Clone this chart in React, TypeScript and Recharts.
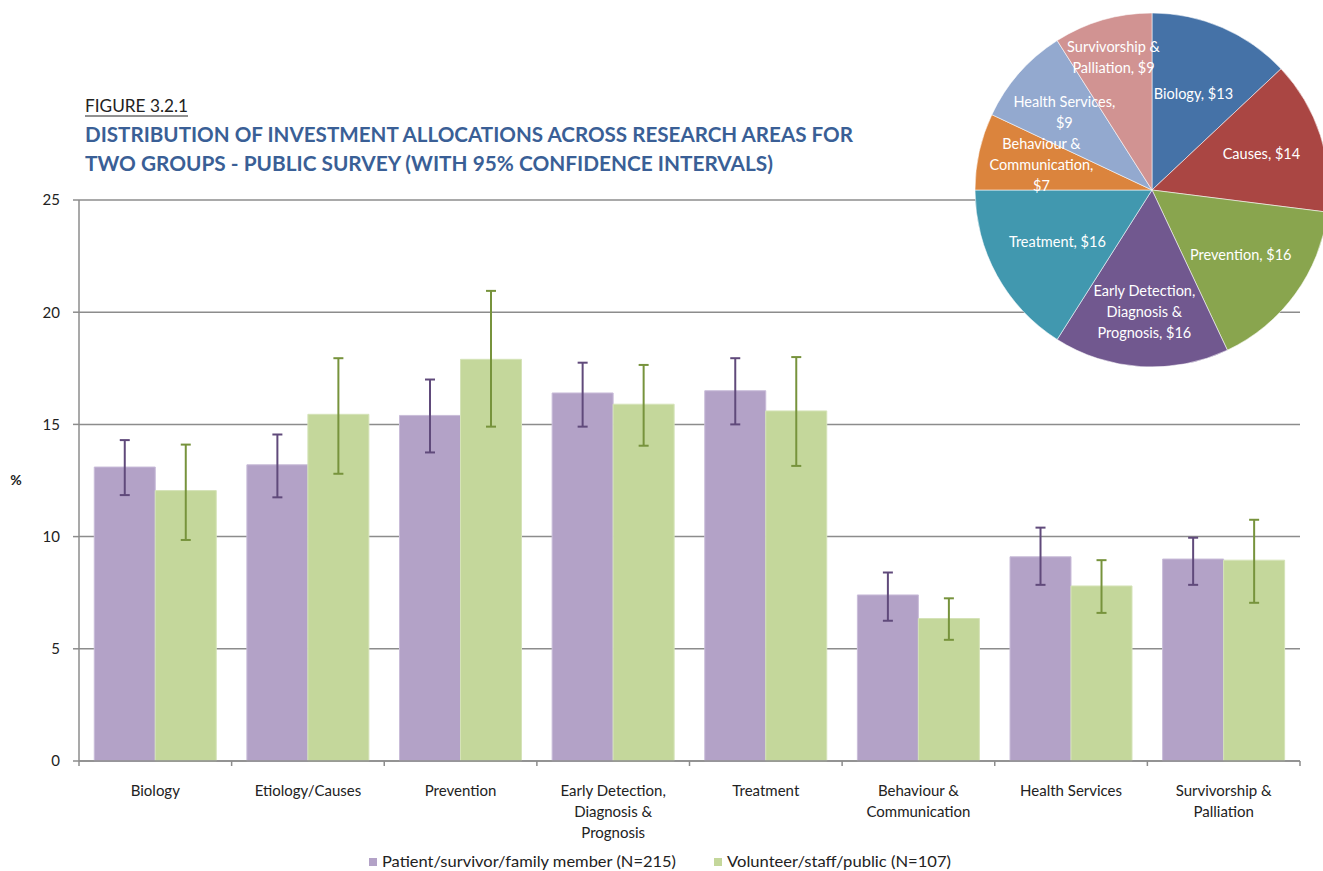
import React from 'react';
import { BarChart, Bar, XAxis, YAxis, CartesianGrid, ErrorBar, PieChart, Pie, Cell } from 'recharts';

// ---------- Data ----------
const categories = [
  'Biology',
  'Etiology/Causes',
  'Prevention',
  'Early Detection,\nDiagnosis &\nPrognosis',
  'Treatment',
  'Behaviour &\nCommunication',
  'Health Services',
  'Survivorship &\nPalliation',
];

const patient = [13.1, 13.2, 15.4, 16.4, 16.5, 7.4, 9.1, 9.0];
const patientLow = [11.85, 11.75, 13.75, 14.9, 15.0, 6.25, 7.85, 7.85];
const patientHigh = [14.3, 14.55, 17.0, 17.75, 17.95, 8.4, 10.4, 9.95];

const volunteer = [12.05, 15.45, 17.9, 15.9, 15.6, 6.35, 7.8, 8.95];
const volunteerLow = [9.85, 12.8, 14.9, 14.05, 13.15, 5.4, 6.6, 7.05];
const volunteerHigh = [14.1, 17.95, 20.95, 17.65, 18.0, 7.25, 8.95, 10.75];

const yTicks = [0, 5, 10, 15, 20, 25];

const seriesNames = ['Patient/survivor/family member (N=215)', 'Volunteer/staff/public (N=107)'];

const pieNames = ['Biology', 'Causes', 'Prevention', 'Early Detection', 'Treatment', 'Behaviour', 'Health Services', 'Survivorship'];
const pieLabelTemplates = [
  'Biology, $',
  'Causes, $',
  'Prevention, $',
  'Early Detection,\nDiagnosis &\nPrognosis, $',
  'Treatment, $',
  'Behaviour &\nCommunication,\n$',
  'Health Services,\n$',
  'Survivorship &\nPalliation, $',
];
const pieValues = [13, 14, 16, 16, 16, 7, 9, 9];

// ---------- Styles ----------
const FONT = 'Lato, "Open Sans", sans-serif';
const PIE_COLORS = ['#4572A7', '#AA4643', '#89A54E', '#71588F', '#4198AF', '#DB843D', '#93A9CF', '#D19392'];
const PIE_LABEL_R = [0.59, 0.65, 0.62, 0.69, 0.61, 0.64, 0.66, 0.78];
const GRID = '#8c8c8c';
const PLOT_LEFT = 79;
const PLOT_RIGHT = 1300;
const PLOT_BOTTOM = 761;
const BAND = (PLOT_RIGHT - PLOT_LEFT) / categories.length;

const barData = categories.map((c, i) => ({
  category: c,
  patient: patient[i],
  patientErr: [patient[i] - patientLow[i], patientHigh[i] - patient[i]],
  volunteer: volunteer[i],
  volunteerErr: [volunteer[i] - volunteerLow[i], volunteerHigh[i] - volunteer[i]],
}));

const pieData = pieNames.map((n, i) => ({ name: n, value: pieValues[i] }));

const XTick = (props: any) => {
  const { x, payload, index } = props;
  const lines = String(payload.value).split('\n');
  const isLast = index === categories.length - 1;
  return (
    <g>
      <line x1={x - BAND / 2} x2={x - BAND / 2} y1={PLOT_BOTTOM} y2={PLOT_BOTTOM + 5} stroke={GRID} strokeWidth={1.5} />
      {isLast && (
        <line x1={x + BAND / 2} x2={x + BAND / 2} y1={PLOT_BOTTOM} y2={PLOT_BOTTOM + 5} stroke={GRID} strokeWidth={1.5} />
      )}
      <text x={x} y={PLOT_BOTTOM + 35} textAnchor="middle" fontSize={15} fill="#222" fontFamily={FONT}>
        {lines.map((l, i) => (
          <tspan key={i} x={x} dy={i === 0 ? 0 : 21}>
            {l}
          </tspan>
        ))}
      </text>
    </g>
  );
};

const renderPieLabel = (props: any) => {
  const { cx, cy, midAngle, outerRadius, index } = props;
  const RAD = Math.PI / 180;
  const r = outerRadius * PIE_LABEL_R[index];
  const x = cx + r * Math.cos(-midAngle * RAD);
  const y = cy + r * Math.sin(-midAngle * RAD);
  const lines = (pieLabelTemplates[index] + pieValues[index]).split('\n');
  const startDy = -((lines.length - 1) * 21) / 2 + 5;
  return (
    <text x={x} y={y} textAnchor="middle" fill="#ffffff" fontSize={14.5} fontFamily={FONT}>
      {lines.map((l, i) => (
        <tspan key={i} x={x} dy={i === 0 ? startDy : 21}>
          {l}
        </tspan>
      ))}
    </text>
  );
};

export default function App() {
  return (
    <div style={{ position: 'absolute', left: 0, top: 0, width: 1323, height: 871, overflow: 'hidden', background: '#fff', fontFamily: FONT }}>
      <div style={{ position: 'absolute', left: 0, top: 0 }}>
        <BarChart
          width={1323}
          height={871}
          data={barData}
          margin={{ top: 200, right: 1323 - PLOT_RIGHT, bottom: 30, left: 0 }}
          barCategoryGap="10%"
          barGap={0}
        >
          <CartesianGrid vertical={false} stroke={GRID} strokeWidth={1.5} />
          <XAxis
            dataKey="category"
            interval={0}
            tick={<XTick />}
            tickLine={false}
            axisLine={{ stroke: GRID, strokeWidth: 1.5 }}
            height={80}
          />
          <YAxis
            domain={[0, 25]}
            ticks={yTicks}
            width={PLOT_LEFT}
            tickSize={6}
            tickMargin={13}
            axisLine={{ stroke: GRID, strokeWidth: 1.5 }}
            tickLine={{ stroke: GRID, strokeWidth: 1.5 }}
            tick={{ fontSize: 15, fill: '#222', fontFamily: FONT }}
          />
          <Bar dataKey="patient" fill="#B3A2C7" stroke="#C9BCD9" strokeWidth={1} isAnimationActive={false}>
            <ErrorBar dataKey="patientErr" width={5} strokeWidth={2} stroke="#604A7B" direction="y" />
          </Bar>
          <Bar dataKey="volunteer" fill="#C4D79B" stroke="#D5E3B8" strokeWidth={1} isAnimationActive={false}>
            <ErrorBar dataKey="volunteerErr" width={5} strokeWidth={2} stroke="#77933C" direction="y" />
          </Bar>
        </BarChart>
      </div>

      <div style={{ position: 'absolute', left: 972, top: 10 }}>
        <PieChart width={360} height={360} margin={{ top: 0, right: 0, bottom: 0, left: 0 }}>
          <Pie
            data={pieData}
            dataKey="value"
            nameKey="name"
            cx={180}
            cy={180}
            outerRadius={177}
            startAngle={90}
            endAngle={-270}
            stroke="rgba(255,255,255,0.55)"
            strokeWidth={1}
            label={renderPieLabel}
            labelLine={false}
            isAnimationActive={false}
          >
            {pieData.map((d, i) => (
              <Cell key={d.name} fill={PIE_COLORS[i]} />
            ))}
          </Pie>
        </PieChart>
      </div>

      <svg width={1323} height={871} style={{ position: 'absolute', left: 0, top: 0, pointerEvents: 'none' }}>
        <text x={85} y={112} fontSize={17} fill="#222" fontFamily={FONT} textLength={103} lengthAdjust="spacingAndGlyphs">
          FIGURE 3.2.1
        </text>
        <line x1={85} x2={188} y1={116} y2={116} stroke="#222" strokeWidth={1.2} />
        <text x={85} y={142} fontSize={20.5} fontWeight={700} fill="#3A5F96" fontFamily={FONT} textLength={768} lengthAdjust="spacingAndGlyphs">
          DISTRIBUTION OF INVESTMENT ALLOCATIONS ACROSS RESEARCH AREAS FOR
        </text>
        <text x={85} y={171} fontSize={20.5} fontWeight={700} fill="#3A5F96" fontFamily={FONT} textLength={688} lengthAdjust="spacingAndGlyphs">
          TWO GROUPS - PUBLIC SURVEY  (WITH 95% CONFIDENCE INTERVALS)
        </text>
        <text x={16} y={485} fontSize={14} fontWeight={700} fill="#222" fontFamily={FONT} textAnchor="middle">
          %
        </text>
        <rect x={369} y={858} width={8} height={8} fill="#B3A2C7" />
        <text x={382} y={867} fontSize={15} fill="#222" fontFamily={FONT} textLength={294} lengthAdjust="spacingAndGlyphs">
          {seriesNames[0]}
        </text>
        <rect x={714} y={858} width={8} height={8} fill="#C4D79B" />
        <text x={727} y={867} fontSize={15} fill="#222" fontFamily={FONT} textLength={224} lengthAdjust="spacingAndGlyphs">
          {seriesNames[1]}
        </text>
      </svg>
    </div>
  );
}
